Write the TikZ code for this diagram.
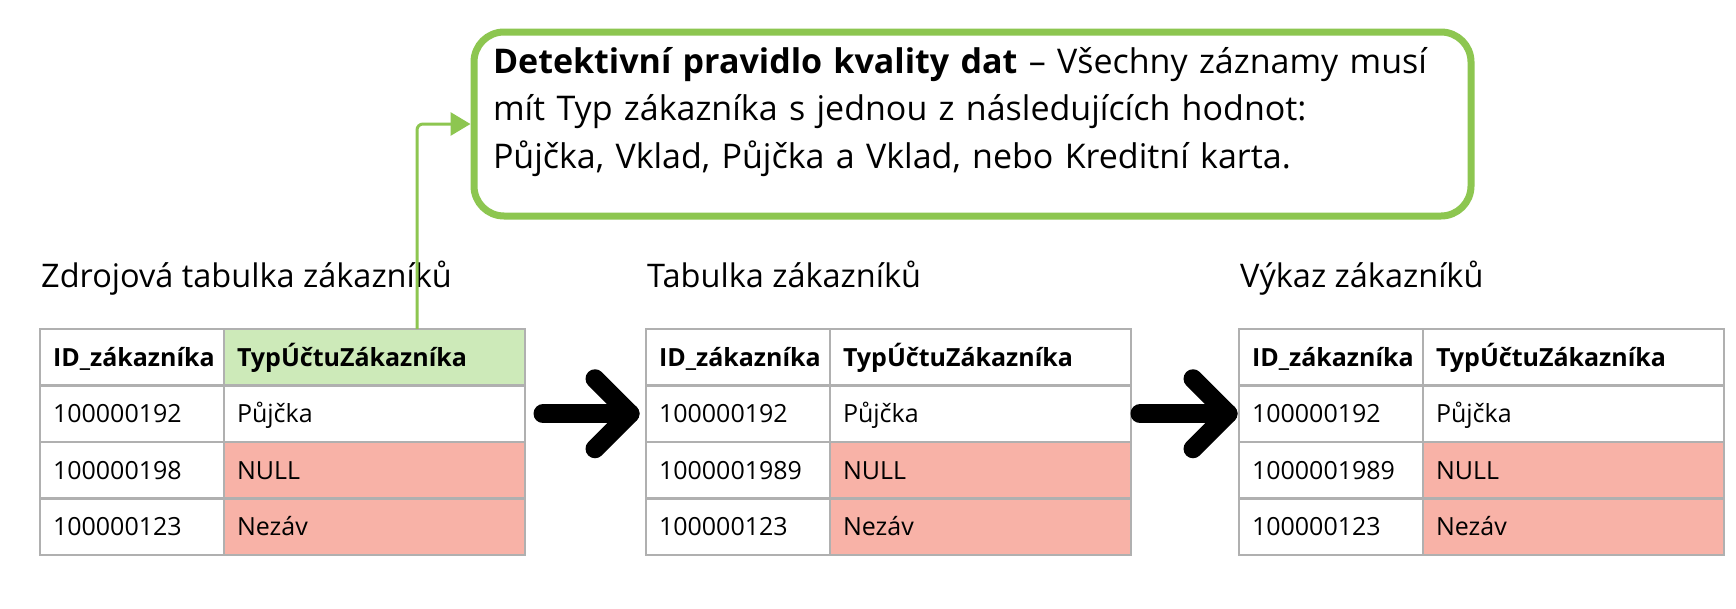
\documentclass[tikz,border=0pt]{standalone}
\usepackage{fontspec}
\setmainfont{Open Sans}
\usetikzlibrary{arrows.meta,calc}
\definecolor{boxgreen}{HTML}{8DC650}
\definecolor{hdrgreen}{HTML}{CDEAB9}
\definecolor{badpink}{HTML}{F8B2A7}
\definecolor{gridgray}{HTML}{B0B0B0}
\newcommand\tabfont{\fontsize{25}{30}\selectfont}
\newcommand\mktable[5]{%
  \node[titletext] (#1-t) at (#2+1,287) {#3};
  \node[colA,font=\tabfont\bfseries] (#1-0-1) at (#2,329) {ID\_zákazníka};
  \node[colB,font=\tabfont\bfseries,fill=#4] (#1-0-2) at (#1-0-1.north east) {TypÚčtuZákazníka};
  \node[colA] (#1-1-1) at (#1-0-1.south west) {100000192};
  \node[colB] (#1-1-2) at (#1-1-1.north east) {Půjčka};
  \node[colA] (#1-2-1) at (#1-1-1.south west) {#5};
  \node[colB,fill=badpink] (#1-2-2) at (#1-2-1.north east) {NULL};
  \node[colA] (#1-3-1) at (#1-2-1.south west) {100000123};
  \node[colB,fill=badpink] (#1-3-2) at (#1-3-1.north east) {Nezáv};
}
\begin{document}
\begin{tikzpicture}[x=1pt,y=-1pt,
  cell/.style={draw=gridgray,line width=2.5pt,anchor=north west,outer sep=0pt,
    minimum height=56.5pt,inner xsep=13pt,inner ysep=0pt,align=left,
    text height=21pt,text depth=3pt,font=\tabfont},
  colA/.style={cell,text width=158pt},
  colB/.style={cell,text width=275pt},
  titletext/.style={anchor=base west,inner sep=0pt,font=\fontsize{32.5}{38}\selectfont},
  rulebox/.style={draw=boxgreen,line width=7pt,rounded corners=30pt,fill=white,
    minimum width=997pt,minimum height=184pt,text width=959pt,inner xsep=19pt,
    text height=25pt,text depth=127pt,
    align=left,font=\fontsize{34}{47.5}\selectfont},
  conn/.style={draw=boxgreen,line width=3pt,rounded corners=6pt,
    -{Triangle[width=23pt,length=20pt]}},
  fat/.style={draw=black,line width=19pt,line cap=round,line join=round}]
\useasboundingbox (0,0) rectangle (1736,608);
\fill[white] (0,0) rectangle (1736,608);
\node[rulebox] (rule) at (972.5,124)
  {\textbf{Detektivní pravidlo kvality dat} – Všechny záznamy musí\\
   mít Typ zákazníka s jednou z následujících hodnot:\\
   Půjčka, Vklad, Půjčka a Vklad, nebo Kreditní karta.};
\mktable{ta}{40}{Zdrojová tabulka zákazníků}{hdrgreen}{100000198}
\mktable{tb}{646}{Tabulka zákazníků}{white}{1000001989}
\mktable{tc}{1239}{Výkaz zákazníků}{white}{1000001989}
\coordinate (src) at ([xshift=42.5pt]ta-0-2.north);
\draw[conn] (src) |- (rule.west);
\draw[fat] ([xshift=18pt]ta-1-2.east) -- ([xshift=-16pt]tb-1-1.west);
\draw[fat] ([xshift=-51pt,yshift=35pt]tb-1-1.west) -- ([xshift=-16pt]tb-1-1.west)
  -- ([xshift=-51pt,yshift=-35pt]tb-1-1.west);
\draw[fat] ([xshift=9pt]tb-1-2.east) -- ([xshift=-11pt]tc-1-1.west);
\draw[fat] ([xshift=-46pt,yshift=35pt]tc-1-1.west) -- ([xshift=-11pt]tc-1-1.west)
  -- ([xshift=-46pt,yshift=-35pt]tc-1-1.west);
\end{tikzpicture}
\end{document}
